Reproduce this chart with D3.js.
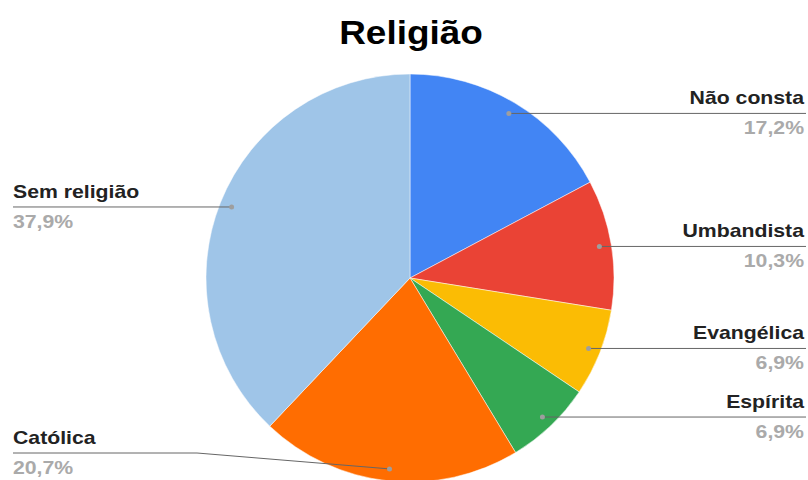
<!DOCTYPE html>
<html>
<head>
<meta charset="utf-8">
<script src="https://cdn.jsdelivr.net/npm/d3@7"></script>
<style>
  body { margin: 0; background: #fff; }
  svg { display: block; font-family: "Liberation Sans", Arial, sans-serif; }
</style>
</head>
<body>
<svg class="chart"></svg>
<script>
const categories = ["Não consta", "Umbandista", "Evangélica", "Espírita", "Católica", "Sem religião"];
const values = [17.2, 10.3, 6.9, 6.9, 20.7, 37.9];
const percentLabels = ["17,2%", "10,3%", "6,9%", "6,9%", "20,7%", "37,9%"];
const colors = ["#4285f4", "#ea4335", "#fbbc04", "#34a853", "#ff6d01", "#9fc5e8"];

const width = 808, height = 480;
const cx = 410, cy = 278, radius = 204;
const stretch = 1.18;   // reference text is drawn a bit wide

const svg = d3.select(".chart").attr("width", width).attr("height", height);

// Title
svg.append("text")
    .attr("transform", `translate(411,44) scale(1.12,1)`)
    .attr("text-anchor", "middle")
    .attr("font-size", "33px")
    .attr("font-weight", "bold")
    .attr("fill", "#000")
    .text("Religião");

const data = categories.map((c, i) => ({ name: c, value: values[i], pct: percentLabels[i], color: colors[i] }));

const pie = d3.pie().sort(null).value(d => d.value);
const arcs = pie(data);

const arc = d3.arc().innerRadius(0).outerRadius(radius);
const dotArc = d3.arc().innerRadius(radius - 12).outerRadius(radius - 12);

const g = svg.append("g").attr("transform", `translate(${cx},${cy})`);

g.selectAll("path.slice")
    .data(arcs)
    .enter()
    .append("path")
    .attr("class", "slice")
    .attr("d", arc)
    .attr("fill", d => d.data.color)
    .attr("stroke", "#fff")
    .attr("stroke-width", 0.5);

// Leader lines and labels
const labels = svg.append("g");
arcs.forEach(d => {
    const [dx, dy] = dotArc.centroid(d);
    const px = cx + dx, py = cy + dy;
    const right = px > cx;
    const ly = Math.min(py, height - 27);   // keep label on screen
    const edgeX = right ? 806 : 13;

    let pts;
    if (ly === py) {
        pts = [[px, py], [edgeX, ly]];
    } else {
        pts = [[px, py], [right ? edgeX - 187 : 197, ly], [edgeX, ly]];
    }
    labels.append("path")
        .attr("d", d3.line()(pts))
        .attr("fill", "none")
        .attr("stroke", "#666")
        .attr("stroke-width", 1);

    labels.append("circle")
        .attr("cx", px)
        .attr("cy", py)
        .attr("r", 2.5)
        .attr("fill", "#9e9e9e");

    const tx = right ? 804 : 13;
    const anchor = right ? "end" : "start";
    labels.append("text")
        .attr("transform", `translate(${tx},${ly - 9}) scale(${stretch},1)`)
        .attr("text-anchor", anchor)
        .attr("font-size", "18px")
        .attr("font-weight", "bold")
        .attr("fill", "#222")
        .text(d.data.name);
    labels.append("text")
        .attr("transform", `translate(${tx},${ly + 21}) scale(${stretch},1)`)
        .attr("text-anchor", anchor)
        .attr("font-size", "18px")
        .attr("font-weight", "bold")
        .attr("fill", "#aaa")
        .text(d.data.pct);
});
</script>
</body>
</html>
